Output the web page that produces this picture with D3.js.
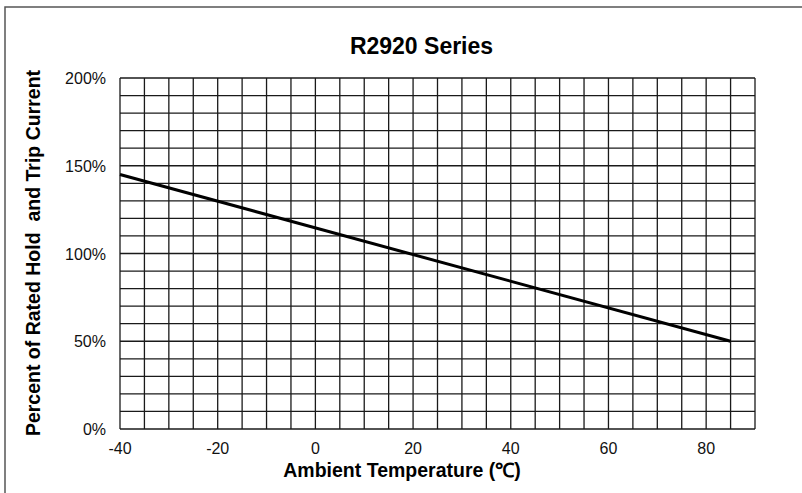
<!DOCTYPE html>
<html><head><meta charset="utf-8">
<script src="https://cdn.jsdelivr.net/npm/d3@7"></script>
<style>body{margin:0;background:#fff}svg{display:block}</style>
</head><body>
<script>
const title = "R2920 Series";
const xTicks = [-40, -20, 0, 20, 40, 60, 80];
const yTicks = [0, 50, 100, 150, 200];
const xGrid = d3.range(-40, 90.01, 5);
const yGrid = d3.range(0, 200.01, 10);
const temps = [-40, 85];
const percents = [145, 50];

const W = 802, H = 493;
const m = {l: 120, r: 47, t: 78, b: 64};
const svg = d3.select("body").append("svg").attr("width", W).attr("height", H);
svg.append("rect").attr("x", 5).attr("y", 7).attr("width", W + 10).attr("height", H + 10)
  .attr("fill", "none").attr("stroke", "#555").attr("stroke-width", 1.5);

const x = d3.scaleLinear().domain([-40, 90]).range([m.l, W - m.r]);
const y = d3.scaleLinear().domain([0, 200]).range([H - m.b, m.t]);

const g = svg.append("g");
g.selectAll(".vx").data(xGrid).join("line")
  .attr("x1", d => x(d)).attr("x2", d => x(d)).attr("y1", y(0)).attr("y2", y(200))
  .attr("stroke", "#1a1a1a").attr("stroke-width", 1.3);
g.selectAll(".hy").data(yGrid).join("line")
  .attr("y1", d => y(d)).attr("y2", d => y(d)).attr("x1", x(-40)).attr("x2", x(90))
  .attr("stroke", "#1a1a1a").attr("stroke-width", 1.3);

const pts = temps.map((t, i) => [t, percents[i]]);
svg.append("path").datum(pts)
  .attr("d", d3.line().x(d => x(d[0])).y(d => y(d[1])))
  .attr("fill", "none").attr("stroke", "#000").attr("stroke-width", 3);

const font = "'Liberation Sans', Arial, sans-serif";
svg.append("g").selectAll("text").data(xTicks).join("text")
  .attr("x", d => x(d)).attr("y", 453.5).attr("text-anchor", "middle")
  .attr("font-family", font).attr("font-size", 16).attr("fill", "#111")
  .text(d => d);
svg.append("g").selectAll("text").data(yTicks).join("text")
  .attr("x", 106).attr("y", d => y(d) + 6).attr("text-anchor", "end")
  .attr("font-family", font).attr("font-size", 16).attr("fill", "#111")
  .text(d => d + "%");

svg.append("text").attr("x", 421.5).attr("y", 53.5).attr("text-anchor", "middle")
  .attr("font-family", font).attr("font-size", 23).attr("font-weight", "bold").text(title);
svg.append("text").attr("x", 402).attr("y", 476.5).attr("text-anchor", "middle")
  .attr("font-family", font).attr("font-size", 19.5).attr("font-weight", "bold")
  .text("Ambient Temperature (℃)");
svg.append("text").attr("transform", "translate(40,253) rotate(-90)").attr("text-anchor", "middle")
  .attr("font-family", font).attr("font-size", 19.5).attr("font-weight", "bold")
  .attr("xml:space", "preserve").style("white-space", "pre")
  .text("Percent of Rated Hold  and Trip Current");
</script>
</body></html>
